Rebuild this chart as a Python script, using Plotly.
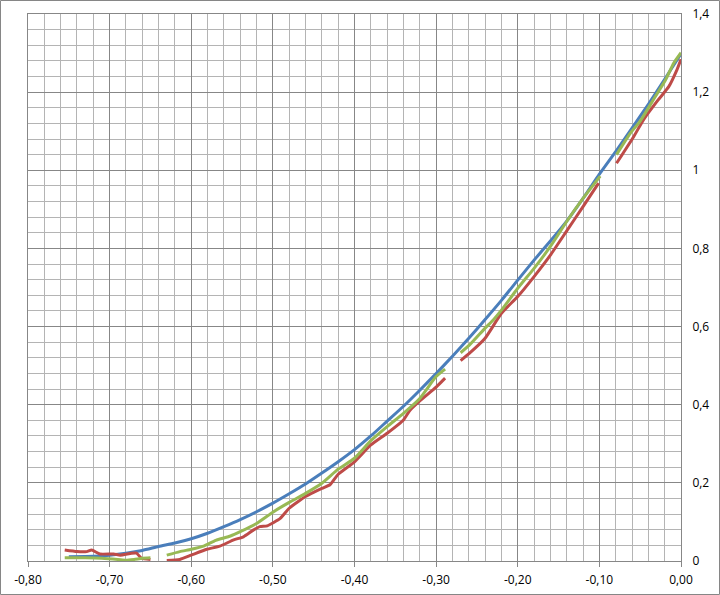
import plotly.graph_objects as go

# ---- data ----
blue_x = [-0.75, -0.72, -0.70, -0.68, -0.66, -0.64, -0.62, -0.60, -0.58, -0.56, -0.54, -0.52,
          -0.50, -0.48, -0.46, -0.44, -0.42, -0.40, -0.38, -0.36, -0.34, -0.32, -0.30, -0.28,
          -0.26, -0.24, -0.22, -0.20, -0.18, -0.16, -0.14, -0.12, -0.10, -0.08, -0.06, -0.04,
          -0.02, 0.00]
blue_y = [0.011, 0.012, 0.015, 0.020, 0.027, 0.037, 0.046, 0.057, 0.071, 0.088, 0.106, 0.126,
          0.148, 0.172, 0.197, 0.225, 0.254, 0.285, 0.320, 0.358, 0.396, 0.437, 0.480, 0.524,
          0.570, 0.618, 0.667, 0.719, 0.770, 0.819, 0.870, 0.928, 0.990, 1.048, 1.108, 1.169,
          1.233, 1.298]

# red series (None marks gaps in the data)
red_x = [-0.755, -0.74, -0.728, -0.722, -0.712, -0.695, -0.687, -0.673, -0.667, -0.661, -0.65,
         None,
         -0.630, -0.614, -0.60, -0.581, -0.565, -0.548, -0.536, -0.524, -0.516, -0.507, -0.491,
         -0.48, -0.46, -0.44, -0.43, -0.42, -0.40, -0.38, -0.36, -0.34, -0.332, -0.32, -0.30,
         -0.289,
         None,
         -0.270, -0.259, -0.24, -0.22, -0.20, -0.18, -0.16, -0.14, -0.12, -0.101,
         None,
         -0.079, -0.058, -0.046, -0.028, -0.015, -0.005, 0.0]
red_y = [0.028, 0.024, 0.024, 0.028, 0.018, 0.018, 0.015, 0.020, 0.020, 0.007, 0.004,
         None,
         0.001, 0.004, 0.015, 0.030, 0.038, 0.054, 0.062, 0.079, 0.088, 0.090, 0.109,
         0.135, 0.165, 0.186, 0.195, 0.222, 0.254, 0.297, 0.327, 0.361, 0.386, 0.410, 0.445,
         0.468,
         None,
         0.513, 0.532, 0.570, 0.634, 0.677, 0.728, 0.783, 0.845, 0.907, 0.967,
         None,
         1.018, 1.086, 1.129, 1.180, 1.214, 1.257, 1.284]

# green series
green_x = [-0.755, -0.73, -0.71, -0.69, -0.68, -0.67, -0.66, -0.65,
           None,
           -0.630, -0.614, -0.60, -0.585, -0.57, -0.552, -0.54, -0.52, -0.50, -0.48, -0.46,
           -0.44, -0.42, -0.40, -0.38, -0.36, -0.34, -0.32, -0.30, -0.289,
           None,
           -0.270, -0.259, -0.24, -0.23, -0.22, -0.20, -0.18, -0.16, -0.14, -0.12, -0.099,
           None,
           -0.079, -0.062, -0.05, -0.034, -0.019, -0.009, 0.0]
green_y = [0.008, 0.008, 0.007, 0.004, 0.002, 0.004, 0.007, 0.008,
           None,
           0.015, 0.024, 0.030, 0.038, 0.053, 0.064, 0.075, 0.096, 0.125, 0.150, 0.173,
           0.199, 0.235, 0.263, 0.308, 0.344, 0.378, 0.416, 0.472, 0.491,
           None,
           0.533, 0.553, 0.596, 0.617, 0.642, 0.698, 0.749, 0.805, 0.869, 0.928, 0.985,
           None,
           1.040, 1.095, 1.126, 1.180, 1.231, 1.274, 1.301]

x_tick_vals = [-0.8, -0.7, -0.6, -0.5, -0.4, -0.3, -0.2, -0.1, 0.0]
x_tick_text = ["-0,80", "-0,70", "-0,60", "-0,50", "-0,40", "-0,30", "-0,20", "-0,10", "0,00"]
y_tick_vals = [0, 0.2, 0.4, 0.6, 0.8, 1.0, 1.2, 1.4]
y_tick_text = ["0", "0,2", "0,4", "0,6", "0,8", "1", "1,2", "1,4"]

# ---- figure ----
W, H = 720, 595
ML, MR, MT, MB = 28, 39, 14, 34

fig = go.Figure()
fig.add_trace(go.Scatter(x=blue_x, y=blue_y, mode="lines",
                         line=dict(color="#4A7EBB", width=3, shape="spline", smoothing=0.6),
                         showlegend=False))
fig.add_trace(go.Scatter(x=red_x, y=red_y, mode="lines", connectgaps=False,
                         line=dict(color="#BE4B48", width=3, shape="spline", smoothing=0.5),
                         showlegend=False))
fig.add_trace(go.Scatter(x=green_x, y=green_y, mode="lines", connectgaps=False,
                         line=dict(color="#98B954", width=3, shape="spline", smoothing=0.5),
                         showlegend=False))

pw, ph = W - ML - MR, H - MT - MB
fig.add_shape(type="rect", xref="paper", yref="paper",
              x0=-(ML - 0.5) / pw, x1=1 + (MR - 0.5) / pw,
              y0=-(MB - 0.5) / ph, y1=1 + (MT - 0.5) / ph,
              line=dict(color="#868686", width=1), fillcolor="rgba(0,0,0,0)", layer="below")

axis_font = dict(family="Open Sans, Noto Sans, sans-serif", size=12, color="#000000")

fig.update_layout(
    width=W, height=H, autosize=False,
    margin=dict(l=ML, r=MR, t=MT, b=MB, autoexpand=False),
    paper_bgcolor="white", plot_bgcolor="white",
    xaxis=dict(range=[-0.8, 0.0], tickvals=x_tick_vals, ticktext=x_tick_text,
               automargin=False,
               showgrid=True, gridcolor="#878787", gridwidth=1,
               minor=dict(dtick=0.02, tick0=0, showgrid=True, gridcolor="#B4B4B4", gridwidth=1),
               showline=True, linecolor="#878787", mirror=True,
               ticks="outside", ticklen=5, tickcolor="#878787",
               ticklabelstandoff=3,
               zeroline=False, tickfont=axis_font),
    yaxis=dict(range=[0, 1.4], tickvals=y_tick_vals, ticktext=y_tick_text, side="right",
               automargin=False,
               showgrid=True, gridcolor="#878787", gridwidth=1,
               minor=dict(dtick=0.04, tick0=0, showgrid=True, gridcolor="#B4B4B4", gridwidth=1),
               showline=True, linecolor="#878787", mirror=True,
               ticks="", ticklabelstandoff=8,
               zeroline=False, tickfont=axis_font),
)

fig.write_html("out.html", config={"displayModeBar": False},
               post_script="document.body.style.margin='0';document.body.style.overflow='hidden';")
